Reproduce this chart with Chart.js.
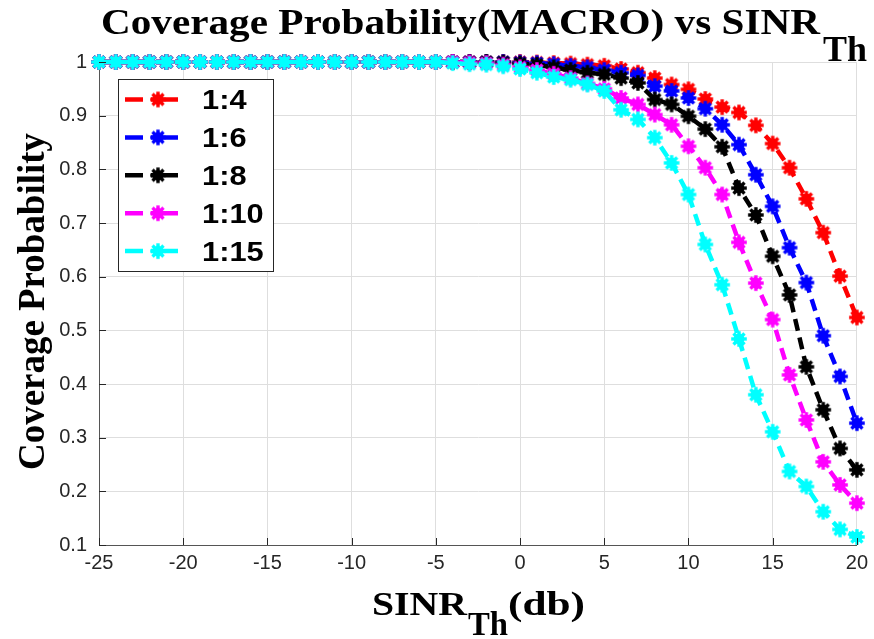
<!DOCTYPE html>
<html>
<head>
<meta charset="utf-8">
<title>Coverage Probability (MACRO) vs SINR</title>
<script src="https://cdn.jsdelivr.net/npm/chart.js@4.4.1/dist/chart.umd.min.js"></script>
<style>
  html, body { margin: 0; padding: 0; background: #fff; }
  #wrap { width: 874px; height: 639px; }
</style>
</head>
<body>
<div id="wrap"><canvas id="coverage" width="874" height="639"></canvas></div>
<script>
// SINR threshold (dB), one marker per dB
const sinrDb = [-25, -24, -23, -22, -21, -20, -19, -18, -17, -16, -15, -14, -13, -12, -11,
    -10, -9, -8, -7, -6, -5, -4, -3, -2, -1, 0, 1, 2, 3, 4, 5, 6, 7, 8, 9, 10,
    11, 12, 13, 14, 15, 16, 17, 18, 19, 20];

const cov1to4 = [1, 1, 1, 1, 1, 1, 1, 1, 1, 1, 1, 1, 1, 1, 1, 1, 1, 1, 1, 1, 1, 1, 1, 1, 1,
    1.0, 0.999, 0.998, 0.997, 0.995, 0.993, 0.987, 0.98, 0.97, 0.958, 0.949,
    0.931, 0.916, 0.906, 0.882, 0.848, 0.803, 0.745, 0.682, 0.601, 0.524];
const cov1to6 = [1, 1, 1, 1, 1, 1, 1, 1, 1, 1, 1, 1, 1, 1, 1, 1, 1, 1, 1, 1, 1, 1, 1, 1, 1,
    0.999, 0.998, 0.996, 0.993, 0.99, 0.985, 0.98, 0.975, 0.955, 0.946, 0.933,
    0.913, 0.883, 0.846, 0.79, 0.731, 0.654, 0.589, 0.49, 0.414, 0.327];
const cov1to8 = [1, 1, 1, 1, 1, 1, 1, 1, 1, 1, 1, 1, 1, 1, 1, 1, 1, 1, 1, 1, 1, 1, 1, 1, 0.999,
    0.997, 0.995, 0.99, 0.985, 0.98, 0.977, 0.97, 0.961, 0.93, 0.921, 0.899,
    0.875, 0.842, 0.765, 0.715, 0.638, 0.566, 0.432, 0.352, 0.28, 0.24];
const cov1to10 = [1, 1, 1, 1, 1, 1, 1, 1, 1, 1, 1, 1, 1, 1, 1, 1, 1, 1, 1, 1, 1, 1, 0.999, 0.998, 0.995,
    0.99, 0.985, 0.978, 0.97, 0.96, 0.95, 0.933, 0.921, 0.902, 0.883, 0.843,
    0.803, 0.753, 0.664, 0.588, 0.52, 0.417, 0.333, 0.255, 0.212, 0.178];
const cov1to15 = [1, 1, 1, 1, 1, 1, 1, 1, 1, 1, 1, 1, 1, 1, 1, 1, 1, 1, 1, 1, 1, 0.998, 0.996, 0.995, 0.992,
    0.987, 0.98, 0.972, 0.967, 0.958, 0.946, 0.911, 0.893, 0.859, 0.812, 0.753,
    0.66, 0.585, 0.484, 0.38, 0.311, 0.237, 0.209, 0.162, 0.129, 0.115];

const seriesLabels = ['1:4', '1:6', '1:8', '1:10', '1:15'];
const seriesColors = ['#ff0000', '#0000ff', '#000000', '#ff00ff', '#00ffff'];
const seriesValues = [cov1to4, cov1to6, cov1to8, cov1to10, cov1to15];

const xTicks = [-25, -20, -15, -10, -5, 0, 5, 10, 15, 20];
const yTicks = [0.1, 0.2, 0.3, 0.4, 0.5, 0.6, 0.7, 0.8, 0.9, 1];

const AXIS_COLOR = '#262626';
const SERIF = '"Liberation Serif", "Times New Roman", serif';
const SANS = '"Liberation Sans", Arial, sans-serif';

// filled asterisk-like blob, similar to a thick MATLAB '*' marker
function makeMarker(color) {
    const c = document.createElement('canvas');
    c.width = 18;
    c.height = 18;
    const g = c.getContext('2d');
    g.fillStyle = color;
    g.strokeStyle = color;
    g.beginPath();
    g.arc(9, 9, 5.4, 0, Math.PI * 2);
    g.fill();
    g.lineWidth = 3.4;
    for (let i = 0; i < 8; i++) {
        const a = i * Math.PI / 4;
        g.beginPath();
        g.moveTo(9, 9);
        g.lineTo(9 + 7.8 * Math.cos(a), 9 + 7.8 * Math.sin(a));
        g.stroke();
    }
    return c;
}

const markers = seriesColors.map(makeMarker);

// draw text squeezed/stretched to a given width
function fitText(ctx, text, x, y, width) {
    const w = ctx.measureText(text).width;
    ctx.save();
    ctx.translate(x, y);
    ctx.scale(width / w, 1);
    ctx.fillText(text, 0, 0);
    ctx.restore();
}

const decorPlugin = {
    id: 'decor',
    afterDatasetsDraw(chart) {
        const ctx = chart.ctx;
        const area = chart.chartArea;
        const xs = chart.scales.x;
        const ys = chart.scales.y;

        // inward tick marks
        ctx.save();
        ctx.strokeStyle = AXIS_COLOR;
        ctx.lineWidth = 1;
        ctx.beginPath();
        xTicks.forEach(v => {
            const px = Math.round(xs.getPixelForValue(v)) + 0.5;
            ctx.moveTo(px, area.bottom);
            ctx.lineTo(px, area.bottom - 7);
        });
        yTicks.forEach(v => {
            const py = Math.round(ys.getPixelForValue(v)) + 0.5;
            ctx.moveTo(area.left, py);
            ctx.lineTo(area.left + 7, py);
        });
        ctx.stroke();

        // legend box
        const bx = 118, by = 79, bw = 155, bh = 192;
        ctx.fillStyle = '#ffffff';
        ctx.fillRect(bx, by, bw, bh);
        ctx.strokeStyle = AXIS_COLOR;
        ctx.strokeRect(bx + 0.5, by + 0.5, bw, bh);
        seriesLabels.forEach((label, i) => {
            const ly = 99.5 + i * 37.9;
            ctx.strokeStyle = seriesColors[i];
            ctx.lineWidth = 4.5;
            ctx.beginPath();
            ctx.moveTo(125, ly);
            ctx.lineTo(143, ly);
            ctx.moveTo(151, ly);
            ctx.lineTo(178, ly);
            ctx.stroke();
            ctx.drawImage(markers[i], 158 - 9, ly - 9);
            ctx.fillStyle = '#000';
            ctx.font = 'bold 28px ' + SANS;
            ctx.textBaseline = 'middle';
            ctx.textAlign = 'left';
            const w = ctx.measureText(label).width;
            fitText(ctx, label, 202, ly + 2, w * 1.1);
        });
        ctx.restore();
    },
    afterDraw(chart) {
        const ctx = chart.ctx;
        ctx.save();
        ctx.fillStyle = '#000';
        ctx.textAlign = 'left';
        ctx.textBaseline = 'alphabetic';

        // title
        ctx.font = 'bold 35px ' + SERIF;
        fitText(ctx, 'Coverage Probability(MACRO) vs SINR', 101, 34, 719);
        fitText(ctx, 'Th', 823, 61, 44);

        // x axis title
        ctx.font = 'bold 33px ' + SERIF;
        fitText(ctx, 'SINR', 372, 615, 95);
        fitText(ctx, 'Th', 468, 635, 40);
        fitText(ctx, '(db)', 508, 615, 77);

        // y axis title
        ctx.font = 'bold 38px ' + SERIF;
        ctx.translate(44, 470);
        ctx.rotate(-Math.PI / 2);
        fitText(ctx, 'Coverage Probability', 0, 0, 337);
        ctx.restore();
    }
};

const ctx = document.getElementById('coverage');
new Chart(ctx, {
    type: 'line',
    data: {
        datasets: seriesLabels.map((label, i) => ({
            label,
            data: sinrDb.map((x, j) => ({ x, y: seriesValues[i][j] })),
            borderColor: seriesColors[i],
            backgroundColor: seriesColors[i],
            borderWidth: 4.5,
            borderDash: [12, 7],
            pointStyle: markers[i],
            pointRadius: 9,
            tension: 0,
            fill: false,
            clip: false,
            order: seriesLabels.length - i
        }))
    },
    options: {
        responsive: false,
        animation: false,
        layout: { padding: { left: 0, right: 17, top: 62, bottom: 0 } },
        scales: {
            x: {
                type: 'linear',
                min: -25,
                max: 20,
                afterBuildTicks: scale => { scale.ticks = xTicks.map(v => ({ value: v })); },
                afterFit: scale => { scale.height = 94; },
                ticks: {
                    color: AXIS_COLOR,
                    font: { family: SANS, size: 20 },
                    padding: 6,
                    maxRotation: 0,
                    callback: v => String(v)
                },
                grid: { color: '#dedede', drawTicks: false },
                border: { color: '#555555', width: 1 }
            },
            y: {
                type: 'linear',
                min: 0.1,
                max: 1,
                afterBuildTicks: scale => { scale.ticks = yTicks.map(v => ({ value: v })); },
                afterFit: scale => { scale.width = 99; },
                ticks: {
                    color: AXIS_COLOR,
                    font: { family: SANS, size: 20 },
                    padding: 12,
                    callback: v => String(Math.round(v * 10) / 10)
                },
                grid: { color: '#dedede', drawTicks: false },
                border: { color: '#555555', width: 1 }
            }
        },
        plugins: {
            legend: { display: false },
            tooltip: { enabled: false },
            title: { display: false }
        }
    },
    plugins: [decorPlugin]
});
</script>
</body>
</html>
